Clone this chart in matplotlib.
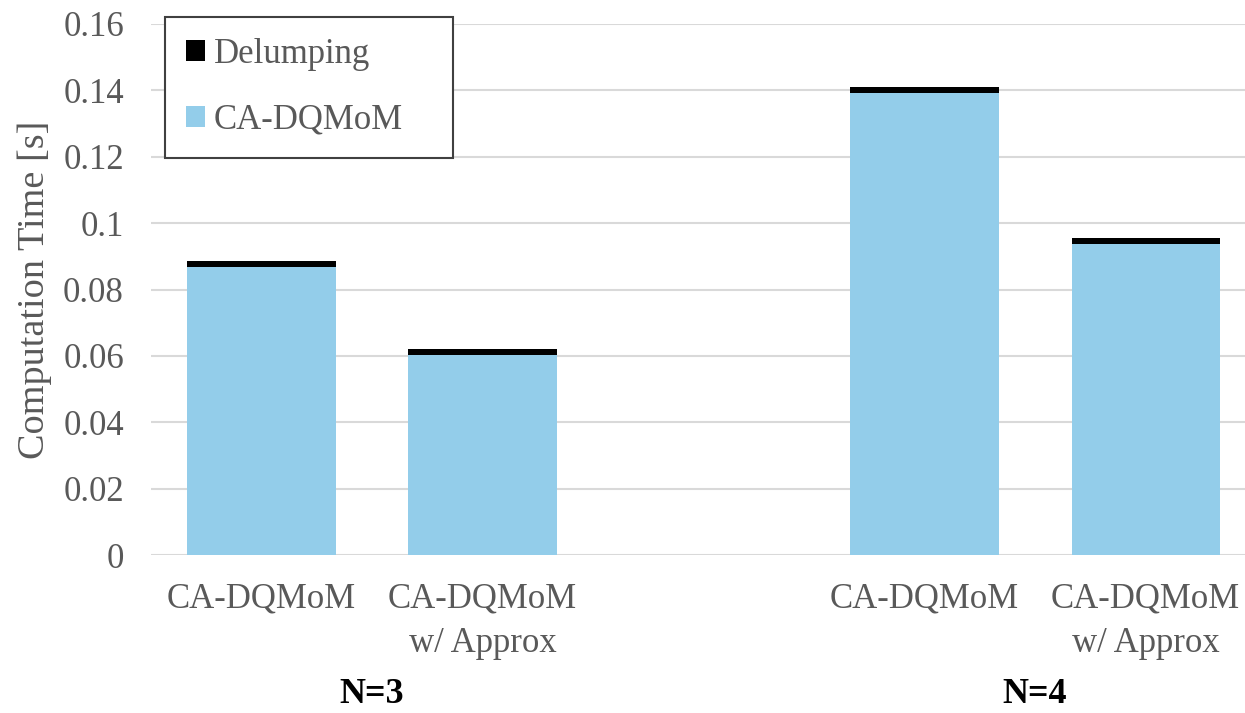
import matplotlib.pyplot as plt
import numpy as np

# data
labels = ['CA-DQMoM', 'CA-DQMoM\nw/ Approx', 'CA-DQMoM', 'CA-DQMoM\nw/ Approx']
groups = ['N=3', 'N=4']
ca_dqmom = [0.0868, 0.0603, 0.1391, 0.0936]
delumping = [0.0018, 0.0019, 0.0019, 0.0018]

plt.rcParams['font.family'] = ['Liberation Serif', 'DejaVu Serif']
gray = '#595959'

fig = plt.figure(figsize=(12.45, 7.13), dpi=100)
ax = fig.add_axes([151 / 1245, 158 / 713, 1 - 151 / 1245, 531 / 713])

x = np.array([0, 1, 3, 4])
w = 0.67
b1 = ax.bar(x, ca_dqmom, w, color='#93CDEA', label='CA-DQMoM', zorder=3)
b2 = ax.bar(x, delumping, w, bottom=ca_dqmom, color='black', label='Delumping', zorder=3)

ax.set_xlim(-0.5, 4.45)
ax.set_ylim(0, 0.16)
ax.set_yticks(np.arange(0, 0.161, 0.02))
ax.set_yticklabels(['0', '0.02', '0.04', '0.06', '0.08', '0.1', '0.12', '0.14', '0.16'])
ax.set_xticks(x)
ax.set_xticklabels(labels, linespacing=1.44)
ax.tick_params(axis='both', length=0, labelsize=25, labelcolor=gray)
ax.tick_params(axis='x', pad=20)
ax.tick_params(axis='y', pad=19.5)

ax.grid(axis='y', color='#d9d9d9', linewidth=1.5, zorder=0)
for s in ax.spines.values():
    s.set_visible(False)

ax.set_ylabel('Computation Time [s]', fontsize=27.5, color=gray, labelpad=8)

for gx, g in zip([0.5, 3.5], groups):
    ax.text(gx, -0.262, g, transform=ax.get_xaxis_transform(), ha='center', va='center',
            fontsize=26, fontweight='bold', color='black')

# legend box: upper left corner, stretched to the width seen in the chart
leg = ax.legend(handles=[b2, b1], loc='upper left', bbox_to_anchor=(0.0128, 0.757, 0.263, 0.256),
                mode='expand', fontsize=25, handlelength=0.55, handleheight=0.55,
                handletextpad=0.25, labelspacing=0.95, borderpad=0.6, fancybox=False,
                framealpha=1, edgecolor='#404040', borderaxespad=0)
leg.get_frame().set_linewidth(1.5)
for t in leg.get_texts():
    t.set_color(gray)

plt.savefig('out.png', dpi=100)
